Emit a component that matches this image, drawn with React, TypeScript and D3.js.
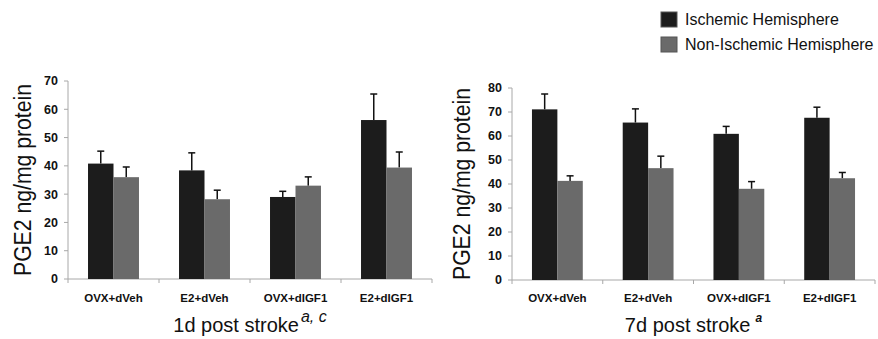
import React from "react";
import * as d3 from "d3";

const categories = ["OVX+dVeh", "E2+dVeh", "OVX+dIGF1", "E2+dIGF1"];
const seriesNames = ["Ischemic Hemisphere", "Non-Ischemic Hemisphere"];
const seriesColors = ["#1c1c1c", "#6a6a6a"];

// 1d post stroke
const day1Ischemic = [40.8, 38.4, 29.0, 56.2];
const day1IschemicErr = [4.4, 6.2, 2.0, 9.2];
const day1NonIschemic = [36.0, 28.2, 33.0, 39.4];
const day1NonIschemicErr = [3.6, 3.2, 3.1, 5.5];
const day1Ticks = [0, 10, 20, 30, 40, 50, 60, 70];

// 7d post stroke
const day7Ischemic = [71.1, 65.6, 60.9, 67.6];
const day7IschemicErr = [6.4, 5.7, 3.1, 4.4];
const day7NonIschemic = [41.3, 46.6, 38.0, 42.4];
const day7NonIschemicErr = [2.1, 5.0, 3.0, 2.4];
const day7Ticks = [0, 10, 20, 30, 40, 50, 60, 70, 80];

const FONT = "'Liberation Sans', Arial, Helvetica, sans-serif";
const AXIS_COLOR = "#a8a8a8";

type PanelProps = {
  x0: number;
  x1: number;
  yTop: number;
  yBottom: number;
  yMax: number;
  ticks: number[];
  values: number[][];
  errors: number[][];
  titleX: number;
  subtitle: string;
  sup: string;
  supStyle: "italic" | "bold";
};

function Panel(p: PanelProps) {
  const x = d3.scaleBand<string>().domain(categories).range([p.x0, p.x1]).padding(0);
  const step = x.step();
  const groupW = step * 0.56;
  const xs = d3
    .scaleBand<string>()
    .domain(seriesNames)
    .range([(step - groupW) / 2, (step + groupW) / 2])
    .padding(0);
  const y = d3.scaleLinear().domain([0, p.yMax]).range([p.yBottom, p.yTop]);
  const bw = xs.bandwidth();
  const cx = (p.x0 + p.x1) / 2;
  const titleY = (p.yTop + p.yBottom) / 2;

  return (
    <g>
      {/* y axis */}
      <line x1={p.x0} x2={p.x0} y1={y(p.yMax)} y2={y(0)} stroke={AXIS_COLOR} strokeWidth={1} />
      {p.ticks.map((t) => (
        <g key={t}>
          <line x1={p.x0 - 4} x2={p.x0} y1={y(t)} y2={y(t)} stroke={AXIS_COLOR} strokeWidth={1} />
          <text
            x={p.x0 - 10}
            y={y(t)}
            dy="0.35em"
            textAnchor="end"
            fontFamily={FONT}
            fontWeight="bold"
            fontSize={12.5}
            fill="#111"
          >
            {t}
          </text>
        </g>
      ))}
      {/* x axis */}
      <line x1={p.x0} x2={p.x1} y1={y(0)} y2={y(0)} stroke={AXIS_COLOR} strokeWidth={1} />
      {d3.range(categories.length + 1).map((i) => (
        <line
          key={i}
          x1={p.x0 + i * step}
          x2={p.x0 + i * step}
          y1={y(0)}
          y2={y(0) + 4}
          stroke={AXIS_COLOR}
          strokeWidth={1}
        />
      ))}
      {/* bars */}
      {categories.map((c, ci) =>
        seriesNames.map((s, si) => {
          const v = p.values[si][ci];
          const e = p.errors[si][ci];
          const bx = (x(c) as number) + (xs(s) as number);
          const mid = bx + bw / 2;
          return (
            <g key={c + s}>
              <line x1={mid} x2={mid} y1={y(v)} y2={y(v + e)} stroke="#111" strokeWidth={1.5} />
              <line x1={mid - 3.5} x2={mid + 3.5} y1={y(v + e)} y2={y(v + e)} stroke="#111" strokeWidth={1.5} />
              <rect x={bx} y={y(v)} width={bw} height={y(0) - y(v)} fill={seriesColors[si]} />
            </g>
          );
        })
      )}
      {/* category labels */}
      {categories.map((c) => (
        <text
          key={c}
          x={(x(c) as number) + step / 2}
          y={302}
          textAnchor="middle"
          fontFamily={FONT}
          fontWeight="bold"
          fontSize={11.5}
          fill="#111"
        >
          {c}
        </text>
      ))}
      {/* y title */}
      <text
        transform={`translate(${p.titleX},${titleY}) rotate(-90)`}
        textAnchor="middle"
        dy="0.35em"
        fontFamily={FONT}
        fontSize={23}
        textLength={192}
        lengthAdjust="spacingAndGlyphs"
        fill="#111"
      >
        PGE2 ng/mg protein
      </text>
      {/* subtitle */}
      <text x={cx} y={332} textAnchor="middle" fontFamily={FONT} fontSize={20} fill="#111">
        <tspan>{p.subtitle}</tspan>
        <tspan
          dx={p.supStyle === "italic" ? 2 : 5}
          dy={-10}
          fontSize={p.supStyle === "italic" ? 16 : 12}
          fontStyle="italic"
          fontWeight={p.supStyle === "bold" ? "bold" : "normal"}
        >
          {p.sup}
        </tspan>
      </text>
    </g>
  );
}

export default function App() {
  return (
    <svg
      width={878}
      height={339}
      style={{ position: "absolute", left: 0, top: 0, background: "#fff" }}
    >
      <Panel
        x0={68}
        x1={432}
        yTop={81}
        yBottom={279}
        yMax={70}
        ticks={day1Ticks}
        values={[day1Ischemic, day1NonIschemic]}
        errors={[day1IschemicErr, day1NonIschemicErr]}
        titleX={23}
        subtitle="1d post stroke"
        sup="a, c"
        supStyle="italic"
      />
      <Panel
        x0={512}
        x1={875}
        yTop={88}
        yBottom={280}
        yMax={80}
        ticks={day7Ticks}
        values={[day7Ischemic, day7NonIschemic]}
        errors={[day7IschemicErr, day7NonIschemicErr]}
        titleX={462}
        subtitle="7d post stroke"
        sup="a"
        supStyle="bold"
      />
      {/* legend */}
      {seriesNames.map((s, i) => (
        <g key={s} transform={`translate(661,${12 + i * 25})`}>
          <rect x={0} y={0} width={16} height={15} fill={seriesColors[i]} stroke="#555" strokeWidth={1} />
          <text x={24} y={7.5} dy="0.35em" fontFamily={FONT} fontSize={16} fill="#111">
            {s}
          </text>
        </g>
      ))}
    </svg>
  );
}
